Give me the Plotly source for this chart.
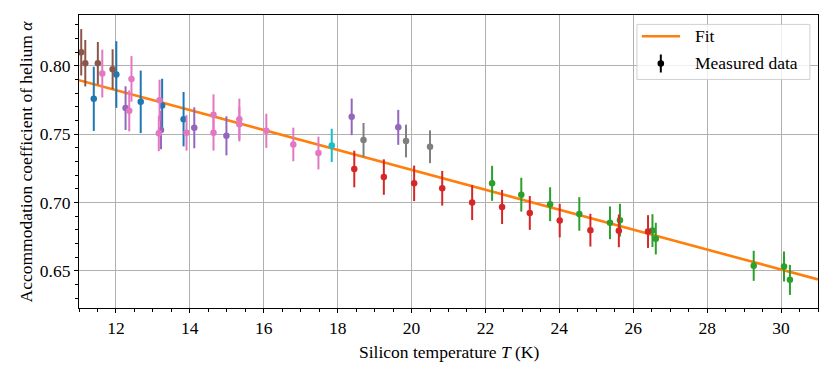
import plotly.graph_objects as go

# ── Measured data, grouped by colour (one group per run) ──
blue_T = [11.40, 12.01, 12.67, 13.25, 13.83]
blue_alpha = [0.7759, 0.7937, 0.7737, 0.7711, 0.7610]
blue_err = [0.0235, 0.0244, 0.0229, 0.0195, 0.0199]

green_T = [22.18, 22.97, 23.75, 24.54, 25.37, 25.64, 26.52, 26.61, 29.26, 30.08, 30.24]
green_alpha = [0.7140, 0.7057, 0.6987, 0.6916, 0.6851, 0.6870, 0.6794, 0.6735, 0.6536, 0.6531, 0.6433]
green_err = [0.0128, 0.0124, 0.0124, 0.0123, 0.0120, 0.0120, 0.0120, 0.0116, 0.0110, 0.0110, 0.0110]

red_T = [18.45, 19.25, 20.07, 20.83, 21.64, 22.45, 23.20, 24.01, 24.84, 25.61, 26.40]
red_alpha = [0.7245, 0.7186, 0.7140, 0.7104, 0.6999, 0.6967, 0.6923, 0.6867, 0.6797, 0.6792, 0.6787]
red_err = [0.0134, 0.0130, 0.0130, 0.0127, 0.0128, 0.0125, 0.0124, 0.0123, 0.0120, 0.0120, 0.0120]

purple_T = [12.26, 13.22, 14.12, 14.99, 18.38, 19.64]
purple_alpha = [0.7691, 0.7530, 0.7547, 0.7488, 0.7627, 0.7550]
purple_err = [0.0160, 0.0140, 0.0150, 0.0143, 0.0134, 0.0128]

brown_T = [11.06, 11.17, 11.51, 11.91]
brown_alpha = [0.8100, 0.8020, 0.8020, 0.7976]
brown_err = [0.0170, 0.0170, 0.0155, 0.0146]

pink_T = [11.63, 12.36, 12.42, 13.16, 13.18, 13.91, 14.64, 14.64, 15.34, 15.34, 16.07, 16.80, 17.48]
pink_alpha = [0.7944, 0.7671, 0.7905, 0.7506, 0.7749, 0.7510, 0.7642, 0.7510, 0.7610, 0.7572,
              0.7525, 0.7425, 0.7362]
pink_err = [0.0175, 0.0150, 0.0167, 0.0130, 0.0150, 0.0130, 0.0150, 0.0130, 0.0150, 0.0125,
            0.0125, 0.0123, 0.0120]

gray_T = [18.70, 19.85, 20.50]
gray_alpha = [0.7457, 0.7450, 0.7408]
gray_err = [0.0125, 0.0120, 0.0120]

cyan_T = [17.84]
cyan_alpha = [0.7418]
cyan_err = [0.0122]

# linear fit, evaluated at the ends of the axis
fit_T = [11.0, 31.0]
fit_alpha = [0.7895, 0.6436]

groups = [
    (blue_T, blue_alpha, blue_err, "#1f77b4"),
    (green_T, green_alpha, green_err, "#2ca02c"),
    (red_T, red_alpha, red_err, "#d62728"),
    (purple_T, purple_alpha, purple_err, "#9467bd"),
    (brown_T, brown_alpha, brown_err, "#8c564b"),
    (pink_T, pink_alpha, pink_err, "#e377c2"),
    (gray_T, gray_alpha, gray_err, "#7f7f7f"),
    (cyan_T, cyan_alpha, cyan_err, "#17becf"),
]

FONT = "Liberation Serif, Times New Roman, serif"
FS = 17.5

fig = go.Figure()
fig.add_trace(go.Scatter(
    x=fit_T, y=fit_alpha, mode="lines", name="Fit",
    line=dict(color="#ff7f0e", width=2.6), showlegend=False,
))
for T, a, e, c in groups:
    fig.add_trace(go.Scatter(
        x=T, y=a, mode="markers", showlegend=False,
        marker=dict(color=c, size=6.5, line=dict(width=0)),
        error_y=dict(type="data", array=e, color=c, thickness=2, width=0),
    ))

axis_common = dict(
    showline=True, linecolor="black", linewidth=1.2, mirror=True,
    ticks="outside", ticklen=4, tickwidth=1, tickcolor="black",
    showgrid=True, gridcolor="#b0b0b0", gridwidth=1.3, zeroline=False,
    tickfont=dict(family=FONT, size=FS, color="black"),
    automargin=False,
)
fig.update_xaxes(
    range=[11, 31], tick0=0, dtick=2,
    minor=dict(dtick=0.5, ticks="outside", ticklen=2.5, tickcolor="black", showgrid=False),
    **axis_common,
)
fig.update_yaxes(
    range=[0.6227, 0.8373], tick0=0, dtick=0.05, tickformat=".2f",
    minor=dict(dtick=0.01, ticks="outside", ticklen=2.5, tickcolor="black", showgrid=False),
    **axis_common,
)

# ── hand-drawn legend (matplotlib style, with error bar glyph) ──
shapes = [
    dict(type="rect", xref="x domain", yref="y domain", x0=0.755, x1=0.989, y0=0.780, y1=0.968,
         line=dict(color="#d0d0d0", width=1), fillcolor="rgba(255,255,255,0.8)", layer="above"),
    dict(type="line", xref="x domain", yref="y domain", x0=0.7616, x1=0.8134, y0=0.9275, y1=0.9275,
         line=dict(color="#ff7f0e", width=2.6), layer="above"),
    dict(type="line", xref="x domain", yref="y domain", x0=0.7873, x1=0.7873, y0=0.8038, y1=0.8651,
         line=dict(color="black", width=2), layer="above"),
    dict(type="circle", xref="x domain", yref="y domain", xsizemode="pixel", ysizemode="pixel",
         xanchor=0.7873, yanchor=0.8345, x0=-3.3, x1=3.3, y0=-3.3, y1=3.3,
         fillcolor="black", line=dict(width=0), layer="above"),
]
annotations = [
    dict(text="Fit", xref="x domain", yref="y domain", x=0.8314, y=0.9275,
         xanchor="left", yanchor="middle", showarrow=False,
         font=dict(family=FONT, size=FS, color="black")),
    dict(text="Measured data", xref="x domain", yref="y domain", x=0.8314, y=0.8345,
         xanchor="left", yanchor="middle", showarrow=False,
         font=dict(family=FONT, size=FS, color="black")),
    # axis titles
    dict(text="Silicon temperature <i>T</i> (K)", xref="paper", yref="paper", x=0.5, y=0,
         xanchor="center", yanchor="middle", yshift=-43.5, showarrow=False,
         font=dict(family=FONT, size=FS, color="black")),
    dict(text="Accommodation coefficient of helium <i>α</i>", xref="paper", yref="paper", x=0, y=0.5,
         xanchor="center", yanchor="middle", xshift=-54, textangle=-90, showarrow=False,
         font=dict(family=FONT, size=FS, color="black")),
]

fig.update_layout(
    width=831, height=374,
    margin=dict(l=78.5, r=13, t=14.7, b=65.7),
    plot_bgcolor="white", paper_bgcolor="white",
    shapes=shapes, annotations=annotations,
    showlegend=False,
)
# drop the browser's default 8px body margin so the figure sits at (0, 0)
fig.write_html("out.html", config={"displayModeBar": False},
               post_script="document.body.style.margin='0';")
